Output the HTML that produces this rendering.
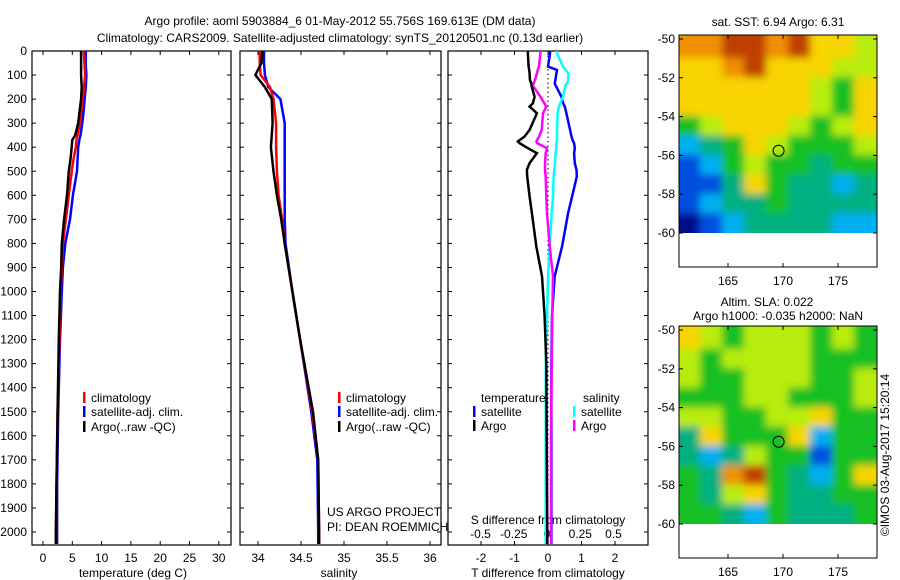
<!DOCTYPE html>
<html><head><meta charset="utf-8"><style>
body{margin:0;background:#fff;}
svg{display:block;font-family:"Liberation Sans",sans-serif;font-size:12px;}
</style></head><body>
<svg id="fig" width="900" height="580" viewBox="0 0 900 580">
<defs><filter id="blur" x="-10%" y="-10%" width="120%" height="120%"><feGaussianBlur stdDeviation="4"/></filter></defs>
<text x="340" y="25" text-anchor="middle">Argo profile: aoml 5903884_6 01-May-2012 55.756S 169.613E (DM data)</text>
<text x="340" y="42" text-anchor="middle">Climatology: CARS2009. Satellite-adjusted climatology: synTS_20120501.nc (0.13d earlier)</text>
<g id="g"></g>
</svg>
<script>
// ---- data ----
const tDepth=[0,10,65,100,150,200,260,300,350,370,400,450,500,600,700,800,900,1000,1200,1500,1800,2000,2050];
const tClim=[7.0,7.0,7.1,7.2,7.0,6.8,6.5,6.3,5.9,5.7,5.6,5.2,4.9,4.4,3.9,3.4,3.2,3.0,2.8,2.5,2.3,2.2,2.2];
const tSat =[7.3,7.3,7.3,7.4,7.3,7.1,6.9,6.7,6.4,6.2,6.0,5.9,5.8,5.1,4.6,3.8,3.4,3.2,2.9,2.6,2.4,2.4,2.4];
const tArgo=[6.5,6.5,6.5,6.5,6.6,6.5,6.2,6.0,5.5,5.0,4.9,4.7,4.4,4.1,3.6,3.2,3.1,2.9,2.7,2.5,2.3,2.2,2.2];
const sDepth=[0,50,100,150,200,300,400,500,600,700,800,1000,1200,1500,1700,2000,2050];
const sClim=[34.02,34.02,34.03,34.14,34.18,34.21,34.21,34.22,34.24,34.28,34.31,34.40,34.49,34.63,34.70,34.71,34.71];
const sSat =[34.07,34.07,34.08,34.12,34.26,34.31,34.31,34.31,34.31,34.31,34.32,34.40,34.49,34.62,34.69,34.70,34.70];
const sArgo=[34.05,34.04,33.97,34.08,34.16,34.17,34.15,34.18,34.22,34.27,34.31,34.40,34.49,34.64,34.70,34.71,34.71];
const dDepth=[0,10,65,79,93,120,135,141,190,217,231,259,328,356,376,383,404,425,466,494,522,605,674,812,937,1100,1300,1600,2000,2050];
const dTSat =[0.06,0.06,0,0.27,0.25,0.22,0.2,0.22,0.4,0.45,0.5,0.55,0.66,0.7,0.75,0.78,0.8,0.78,0.8,0.85,0.86,0.72,0.6,0.42,0.2,0.12,0.1,0.1,0.1,0.1];
const dTArgo=[-0.6,-0.6,-0.58,-0.56,-0.55,-0.54,-0.5,-0.5,-0.4,-0.45,-0.55,-0.33,-0.55,-0.7,-0.9,-0.85,-0.6,-0.33,-0.55,-0.63,-0.62,-0.55,-0.48,-0.35,-0.18,-0.1,-0.05,-0.04,-0.02,-0.02];
const dSSat =[0.075,0.075,0.12,0.14,0.16,0.16,0.15,0.14,0.12,0.1,0.09,0.08,0.075,0.075,0.075,0.07,0.07,0.065,0.06,0.055,0.05,0.045,0.035,0.02,0.008,0,-0.01,-0.01,-0.01,-0.01];
const dSArgo=[-0.05,-0.05,-0.06,-0.07,-0.075,-0.09,-0.1,-0.11,-0.05,-0.02,-0.005,-0.03,-0.04,-0.06,-0.08,-0.075,0,-0.01,-0.015,-0.015,-0.01,-0.005,0,0.02,0.045,0.04,0.035,0.03,0.03,0.03];
const depthTicks=[0,100,200,300,400,500,600,700,800,900,1000,1100,1200,1300,1400,1500,1600,1700,1800,1900,2000];
const tTicks=[0,5,10,15,20,25,30];
const sTicks=[34,34.5,35,35.5,36];
const dtTicks=[-2,-1,0,1,2];
const dsTicks=[-0.5,-0.25,0,0.25,0.5];
const dsTickLabels=["-0.5","-0.25","0","0.25","0.5"];
const latTicks=[-50,-52,-54,-56,-58,-60];
const lonTicks=[165,170,175];
// map grids: rows lat -50..-60 (1 deg), cols lon 161..179 (2 deg), colour index 0..8
const sstGrid=[
[7,7,8,8,7,8,6,6,5],[6,6,7,8,6,6,6,5,5],[6,6,6,6,6,6,5,4,6],[6,6,6,6,6,6,5,4,6],[4,5,6,6,6,5,4,5,6],
[2,3,4,6,5,4,4,4,5],[1,2,4,5,4,4,3,4,4],[1,1,3,6,4,3,3,2,3],[1,2,3,3,4,3,3,3,3],[0,1,2,3,3,3,3,2,2]];
const slaGrid=[
[6,5,4,5,5,5,4,5,4],[5,4,5,5,5,5,4,4,4],[5,4,4,5,5,5,4,4,5],[4,4,4,5,5,4,4,4,5],[5,5,4,4,5,5,6,4,4],
[3,6,4,4,4,6,2,4,4],[3,2,3,5,4,4,1,4,4],[4,3,7,8,4,3,2,4,6],[4,3,5,6,4,3,3,4,4],[4,4,3,2,4,3,3,3,4]];
const palette=["#00108a","#0050e0","#00b0f0","#00b080","#18c020","#b8ec10","#f8d400","#f09000","#c04000"];
const argoLon=169.6, argoLat=-55.76;

// ---- drawing ----
const NS="http://www.w3.org/2000/svg";
const G=document.getElementById('g');
function el(t,a,p){const e=document.createElementNS(NS,t);for(const k in a)e.setAttribute(k,a[k]);(p||G).appendChild(e);return e;}
function txt(x,y,s,anchor,p){const e=el('text',{x:x,y:y,'text-anchor':anchor||'start'},p);e.textContent=s;return e;}
const yD=d=>51+d*0.2405;
const P={top:51,bot:545};
function panel(name,x0,x1){
  const r=el('rect',{x:x0,y:P.top,width:x1-x0,height:P.bot-P.top,fill:'none',stroke:'#000','stroke-width':1.2});
  
  
  depthTicks.forEach(d=>{el('line',{x1:x0,x2:x0+4,y1:yD(d),y2:yD(d),stroke:'#000'});el('line',{x1:x1,x2:x1-4,y1:yD(d),y2:yD(d),stroke:'#000'});});
}
function line(xs,ds,xf,color,name,w){
  const pts=xs.map((v,i)=>xf(v).toFixed(1)+','+yD(ds[i]).toFixed(1)).join(' ');
  const e=el('polyline',{points:pts,fill:'none',stroke:color,'stroke-width':w||2.5});
  
  
}
function legendEntry(x,y,color,label,name){
  const g=el('g',{});
  
  
  el('rect',{x:x,y:y-10,width:2.5,height:11,fill:color},g);
  txt(x+8,y,label,'start',g);
}
// panel 1
const xT=t=>43+t*5.86;
panel('temperature-panel',32,231);
depthTicks.forEach(d=>{const t=txt(27,yD(d)+4,String(d),'end');});
tTicks.forEach(t=>{el('line',{x1:xT(t),x2:xT(t),y1:P.bot,y2:P.bot-4,stroke:'#000'});el('line',{x1:xT(t),x2:xT(t),y1:P.top,y2:P.top+4,stroke:'#000'});txt(xT(t),562,String(t),'middle');});
txt(133,577,'temperature (deg C)','middle');
line(tSat,tDepth,xT,'#0000ff','temp-satellite-clim-line');
line(tClim,tDepth,xT,'#ff0000','temp-climatology-line');
line(tArgo,tDepth,xT,'#000000','temp-argo-line');
legendEntry(83,402,'#ff0000','climatology','legend-climatology');
legendEntry(83,416,'#0000ff','satellite-adj. clim.','legend-satellite');
legendEntry(83,431,'#000000','Argo(..raw -QC)','legend-argo');
// panel 2
const xS=s=>258+(s-34)*86;
panel('salinity-panel',240,441);
sTicks.forEach(t=>{el('line',{x1:xS(t),x2:xS(t),y1:P.bot,y2:P.bot-4,stroke:'#000'});el('line',{x1:xS(t),x2:xS(t),y1:P.top,y2:P.top+4,stroke:'#000'});txt(xS(t),562,String(t),'middle');});
txt(339,577,'salinity','middle');
line(sSat,sDepth,xS,'#0000ff','sal-satellite-clim-line');
line(sClim,sDepth,xS,'#ff0000','sal-climatology-line');
line(sArgo,sDepth,xS,'#000000','sal-argo-line');
legendEntry(338,402,'#ff0000','climatology','legend2-climatology');
legendEntry(338,416,'#0000ff','satellite-adj. clim.','legend2-satellite');
legendEntry(338,431,'#000000','Argo(..raw -QC)','legend2-argo');
txt(327,516,'US ARGO PROJECT');
txt(327,531,'PI: DEAN ROEMMICH');
// panel 3
const xDT=v=>548+v*33.5, xDS=v=>547+v*133;
panel('difference-panel',448,648);
el('line',{x1:548,x2:548,y1:P.top,y2:P.bot,stroke:'#000','stroke-dasharray':'1.5,3'});
dtTicks.forEach(t=>{el('line',{x1:xDT(t),x2:xDT(t),y1:P.bot,y2:P.bot-4,stroke:'#000'});el('line',{x1:xDT(t),x2:xDT(t),y1:P.top,y2:P.top+4,stroke:'#000'});txt(xDT(t),562,String(t),'middle');});
dsTicks.forEach((t,i)=>txt(xDS(t),538,dsTickLabels[i],'middle'));
txt(548,524,'S difference from climatology','middle');
txt(548,577,'T difference from climatology','middle');
line(dTSat,dDepth,xDT,'#0000ff','dT-satellite-line');
line(dSSat,dDepth,xDS,'#00ffff','dS-satellite-line');
line(dSArgo,dDepth,xDS,'#ff00ff','dS-argo-line');
line(dTArgo,dDepth,xDT,'#000000','dT-argo-line');
txt(481,402,'temperature');txt(583,402,'salinity');
legendEntry(473,416,'#0000ff','satellite','legend3-t-satellite');
legendEntry(473,430,'#000000','Argo','legend3-t-argo');
legendEntry(573,416,'#00ffff','satellite','legend3-s-satellite');
legendEntry(573,430,'#ff00ff','Argo','legend3-s-argo');
// maps
function map(name,grid,top,title1,title2){
  const x0=679,x1=877,bot=top+232;
  const lx=l=>728+(l-165)*11, ly=l=>top+4+(-50-l)*19.4;
  const g=el('g',{});
  
  
  const cs=el('svg',{x:x0,y:top,width:x1-x0,height:ly(-60)-top,overflow:'hidden'},g);
  const bg=el('g',{filter:'url(#blur)'},cs);
  const nr=grid.length, nc=grid[0].length;
  grid.forEach((row,r)=>row.forEach((v,c)=>{
    const lon=161+c*2, lat=-50+(-r);
    let xa=lx(lon-0.5)-x0, xb=lx(lon+1.5)-x0, ya=ly(lat)-top, yb=ly(lat-1)-top;
    if(c===0)xa-=15; if(c===nc-1)xb+=15; if(r===0)ya-=15; if(r===nr-1)yb+=15;
    const cell=el('rect',{x:xa-0.5,y:ya-0.5,width:xb-xa+1,height:yb-ya+1,fill:palette[v]},bg);
    
    
  }));
  el('circle',{cx:lx(argoLon),cy:ly(argoLat),r:5.5,fill:'none',stroke:'#000'},g);
  el('rect',{x:x0,y:top,width:x1-x0,height:bot-top,fill:'none',stroke:'#000'},g);
  latTicks.forEach(l=>{el('line',{x1:x0,x2:x0+4,y1:ly(l),y2:ly(l),stroke:'#000'},g);el('line',{x1:x1,x2:x1-4,y1:ly(l),y2:ly(l),stroke:'#000'},g);txt(675,ly(l)+4,String(l),'end',g);});
  lonTicks.forEach(l=>{el('line',{x1:lx(l),x2:lx(l),y1:top,y2:top+4,stroke:'#000'},g);el('line',{x1:lx(l),x2:lx(l),y1:bot,y2:bot-4,stroke:'#000'},g);txt(lx(l),bot+18,String(l),'middle',g);});
  if(title2){txt(767,top-20,title1,'middle',g);txt(778,top-6,title2,'middle',g);} else txt(778,top-9,title1,'middle',g);
}
map('sst-map',sstGrid,35,'sat. SST: 6.94 Argo: 6.31');
map('sla-map',slaGrid,326,'Altim. SLA: 0.022','Argo h1000: -0.035 h2000: NaN');
const c=txt(0,0,'©IMOS 03-Aug-2017 15:20:14','middle');
c.setAttribute('transform','translate(889,455) rotate(-90)');


</script>
</body></html>
